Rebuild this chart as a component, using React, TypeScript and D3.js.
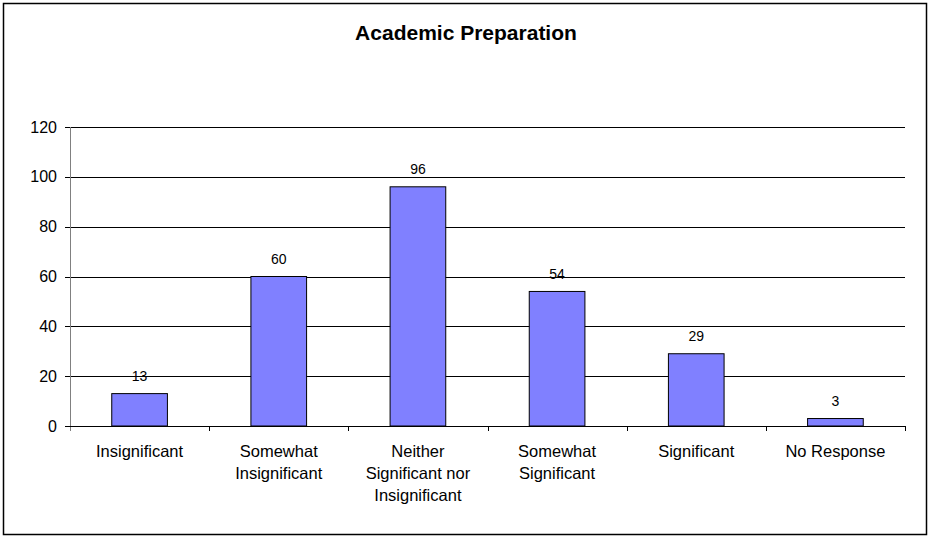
import React from "react";
import * as d3 from "d3";

const categories: string[][] = [
  ["Insignificant"],
  ["Somewhat", "Insignificant"],
  ["Neither", "Significant nor", "Insignificant"],
  ["Somewhat", "Significant"],
  ["Significant"],
  ["No Response"],
];
const values: number[] = [13, 60, 96, 54, 29, 3];
const yTicks: number[] = [0, 20, 40, 60, 80, 100, 120];
const title = "Academic Preparation";

const W = 930;
const H = 538;
const left = 70;
const right = 905;
const top = 127;
const bottom = 426;
const font = "Arial, 'Liberation Sans', sans-serif";

export default function App() {
  const keys = categories.map((c) => c.join(" "));
  const x = d3.scaleBand<string>().domain(keys).range([left, right]).padding(0);
  const y = d3.scaleLinear().domain([0, 120]).range([bottom, top]);
  const bw = x.bandwidth() * 0.4;

  return (
    <svg
      width={W}
      height={H}
      style={{ position: "absolute", left: 0, top: 0, background: "#fff" }}
      fontFamily={font}
    >
      <rect x={0} y={0} width={W} height={H} fill="#fff" />
      <rect x={3.5} y={3.5} width={923} height={531} fill="none" stroke="#000" strokeWidth={1.5} />
      <text x={466} y={40} textAnchor="middle" fontSize={21} fontWeight="bold" fill="#000">
        {title}
      </text>
      {/* gridlines */}
      {yTicks.filter((t) => t > 0).map((t) => (
        <line
          key={"g" + t}
          x1={left}
          x2={right}
          y1={Math.round(y(t)) + 0.5}
          y2={Math.round(y(t)) + 0.5}
          stroke="#000"
          strokeWidth={1}
        />
      ))}
      {/* y axis */}
      <line x1={left + 0.5} x2={left + 0.5} y1={top} y2={bottom + 5} stroke="#808080" strokeWidth={1} />
      {yTicks.map((t) => (
        <g key={"t" + t}>
          <line
            x1={left - 5}
            x2={left}
            y1={Math.round(y(t)) + 0.5}
            y2={Math.round(y(t)) + 0.5}
            stroke="#000"
          />
          <text
            x={57}
            y={y(t)}
            dy="0.35em"
            textAnchor="end"
            fontSize={16}
            fill="#000"
          >
            {t}
          </text>
        </g>
      ))}
      {/* bars */}
      {keys.map((k, i) => {
        const cx = (x(k) as number) + x.bandwidth() / 2;
        const yt = y(values[i]);
        return (
          <g key={"b" + k}>
            <rect
              x={cx - bw / 2}
              y={yt}
              width={bw}
              height={bottom - yt}
              fill="#8080FF"
              stroke="#000"
              strokeWidth={1}
            />
            <text x={cx} y={yt - 12.5} textAnchor="middle" fontSize={14} fill="#000">
              {values[i]}
            </text>
          </g>
        );
      })}
      {/* baseline */}
      <line x1={left} x2={right} y1={bottom + 0.5} y2={bottom + 0.5} stroke="#000" strokeWidth={1} />
      {/* x ticks */}
      {keys.map((k) => (
        <line
          key={"xt" + k}
          x1={Math.round((x(k) as number) + x.bandwidth()) + 0.5}
          x2={Math.round((x(k) as number) + x.bandwidth()) + 0.5}
          y1={bottom}
          y2={bottom + 5}
          stroke="#000"
        />
      ))}
      {/* x labels */}
      {categories.map((lines, i) => {
        const cx = (x(keys[i]) as number) + x.bandwidth() / 2;
        return (
          <text key={"xl" + i} x={cx} textAnchor="middle" fontSize={16.5} fill="#000">
            {lines.map((l, j) => (
              <tspan key={j} x={cx} y={456.5 + j * 22}>
                {l}
              </tspan>
            ))}
          </text>
        );
      })}
    </svg>
  );
}
